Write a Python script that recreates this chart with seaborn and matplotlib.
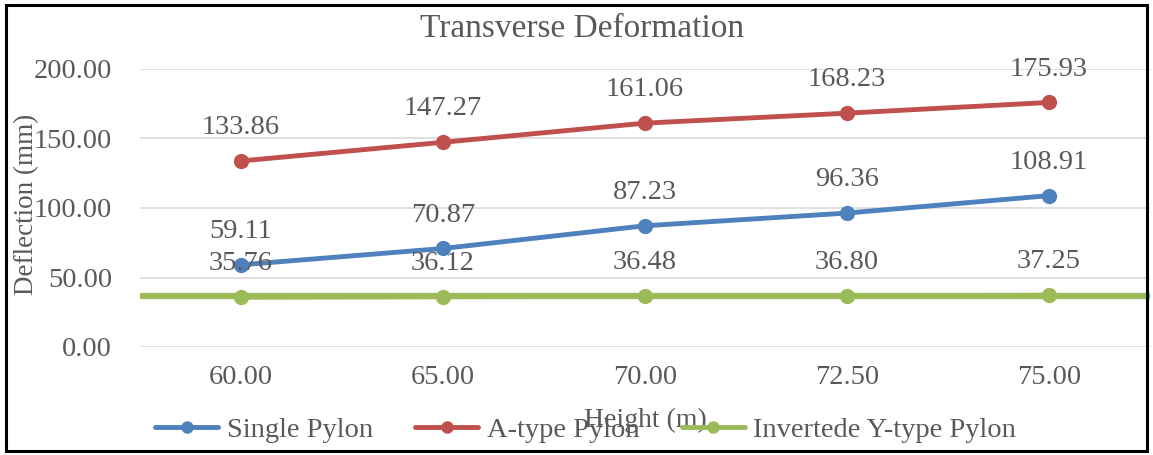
import matplotlib
matplotlib.use("Agg")
import matplotlib.pyplot as plt
import seaborn as sns
import numpy as np
import pandas as pd
from matplotlib.patches import Rectangle
from matplotlib.lines import Line2D

heights = ["60.00", "65.00", "70.00", "72.50", "75.00"]
single_pylon = [59.11, 70.87, 87.23, 96.36, 108.91]
a_type_pylon = [133.86, 147.27, 161.06, 168.23, 175.93]
inv_y_pylon = [35.76, 36.12, 36.48, 36.80, 37.25]
series_names = ["Single Pylon", "A-type Pylon", "Invertede Y-type Pylon"]
colors = ["#4F81BD", "#C0504D", "#9BBB59"]
yticks = [0, 50, 100, 150, 200]

sns.set_theme(style="white")
plt.rcParams["font.family"] = ["Liberation Serif", "DejaVu Serif"]
gray = "#595959"

rows = []
for name, vals in zip(series_names, [single_pylon, a_type_pylon, inv_y_pylon]):
    for h, v in zip(heights, vals):
        rows.append({"Height": h, "Deflection": v, "Series": name})
df = pd.DataFrame(rows)

fig = plt.figure(figsize=(11.53, 4.55), dpi=100)
ax = fig.add_axes([140/1153, 1-347/455, 1010/1153, 278/455])

for y in yticks:
    ax.axhline(y, color="#D9D9D9", lw=1.2, zorder=0)

# Inverted Y series line spans the plot width in the original
ax.axhline(np.mean(inv_y_pylon), color=colors[2], lw=4.5, zorder=1)

sns.lineplot(data=df, x="Height", y="Deflection", hue="Series",
             hue_order=series_names, palette=colors, marker="o",
             markersize=11, markeredgewidth=0, linewidth=3.5,
             sort=False, ax=ax, zorder=3)

for name, vals, c in zip(series_names, [single_pylon, a_type_pylon, inv_y_pylon], colors):
    for i, v in enumerate(vals):
        ax.annotate(f"{v:.2f}", (i, v), xytext=(0, 24), textcoords="offset points",
                    ha="center", va="center", fontsize=20.5, color=gray,
                    annotation_clip=False, zorder=4)

ax.set_xlim(-0.5, len(heights) - 0.5)
ax.set_ylim(0, 200)
ax.set_yticks(yticks)
ax.set_yticklabels([f"{t:.2f}" for t in yticks])
ax.set_xticks(range(len(heights)))
ax.set_xticklabels(heights)
ax.tick_params(axis="y", labelsize=20.5, colors=gray, length=0, pad=20)
ax.tick_params(axis="x", labelsize=20.5, colors=gray, length=0, pad=13)
for s in ax.spines.values():
    s.set_visible(False)
ax.set_xlabel("")
ax.set_ylabel("")
ax.get_legend().remove()

fig.text(582/1153, 1-29/455, "Transverse Deformation", ha="center", va="center",
         fontsize=24, color=gray)
fig.text(27/1153, 1-204/455, "Deflection (mm)", ha="center", va="center",
         rotation=90, fontsize=19.5, color=gray)
fig.text(645/1153, 1-420/455, "Height (m)", ha="center", va="center",
         fontsize=20, color=gray)

handles = [Line2D([], [], color=c, lw=3.5, marker="o", markersize=9, markeredgewidth=0)
           for c in colors]
fig.legend(handles, series_names, loc="center", bbox_to_anchor=(0.508, 1-430/455),
           ncol=3, frameon=False, fontsize=20.5, labelcolor=gray,
           handlelength=2.2, handletextpad=0.3, columnspacing=1.5)

fig.patches.append(Rectangle((0.005, 0.008), 0.99, 0.98, transform=fig.transFigure,
                             fill=False, edgecolor="black", lw=2.2))

fig.savefig("out.png", dpi=100)
